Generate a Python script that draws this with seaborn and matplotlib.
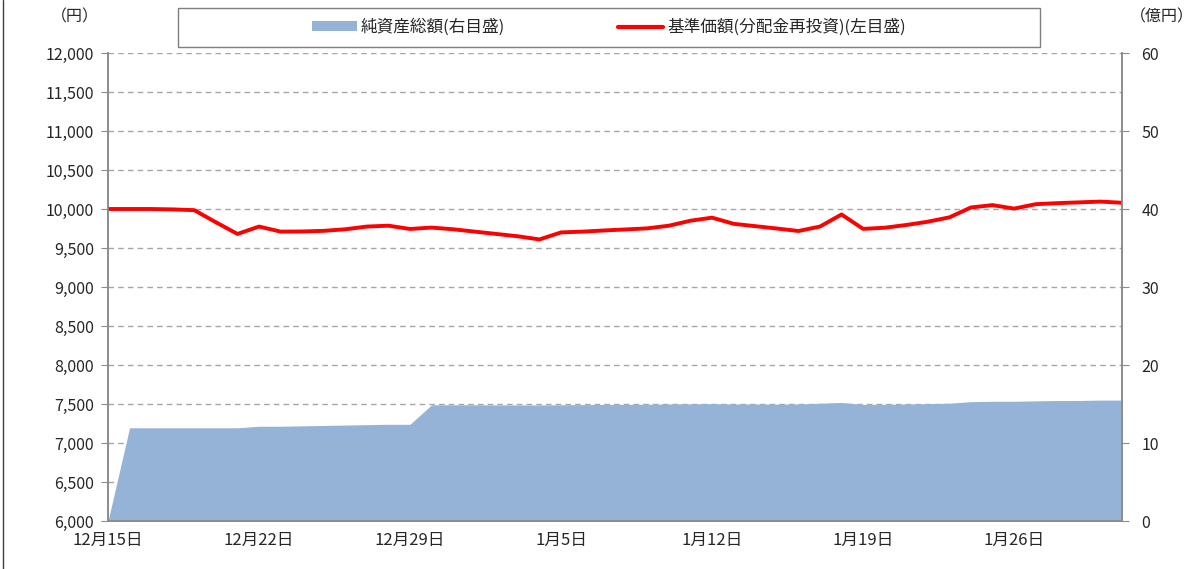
import pandas as pd
import matplotlib
matplotlib.use("Agg")
import matplotlib.pyplot as plt
import matplotlib.dates as mdates
from matplotlib.ticker import MultipleLocator, FuncFormatter
from matplotlib.patches import Rectangle, Patch
from matplotlib.lines import Line2D
import seaborn as sns

# 日付(12月15日〜1月31日)
dates = pd.date_range("2014-12-15", "2015-01-31", freq="D")

# 基準価額(分配金再投資)(左目盛, 円)
nav = [10000, 10000, 10000, 9995, 9985, 9830, 9680, 9775, 9710, 9712,
       9720, 9740, 9775, 9786, 9744, 9762, 9740, 9710, 9680, 9650,
       9610, 9700, 9710, 9725, 9738, 9752, 9786, 9850, 9889, 9810,
       9780, 9750, 9718, 9775, 9930, 9745, 9760, 9795, 9837, 9893,
       10020, 10050, 10005, 10062, 10075, 10085, 10095, 10080]

# 純資産総額(右目盛, 億円)
aum = [0, 11.95, 11.95, 11.95, 11.95, 11.95, 11.95, 12.15, 12.15, 12.2,
       12.25, 12.3, 12.35, 12.4, 12.4, 14.9, 14.9, 14.9, 14.88, 14.88,
       14.88, 14.9, 14.92, 14.95, 14.95, 14.97, 15.0, 15.02, 15.05, 15.0,
       15.0, 14.98, 15.0, 15.1, 15.2, 14.95, 14.97, 15.0, 15.05, 15.1,
       15.3, 15.35, 15.35, 15.4, 15.45, 15.45, 15.5, 15.5]

left_ticks = list(range(6000, 12001, 500))
right_ticks = list(range(0, 61, 10))

df = pd.DataFrame({"date": dates, "nav": nav, "aum": aum})

sns.set_style("white")
plt.rcParams["font.family"] = ["Noto Sans CJK JP", "DejaVu Sans"]

fig = plt.figure(figsize=(11.98, 5.69), dpi=100)
ax = fig.add_axes([108 / 1198, 1 - 521 / 569, (1122 - 108) / 1198, (521 - 53) / 569])
ax2 = ax.twinx()

blue = "#95B3D7"
red = "#FF0000"
gray = "#8C8C8C"

# 純資産総額(面)
ax2.fill_between(df["date"], df["aum"], 0, color=blue, lw=0, zorder=2)
ax2.set_ylim(0, 60)
ax2.set_yticks(right_ticks)
ax2.yaxis.set_minor_locator(MultipleLocator(5))
ax2.grid(True, which="both", axis="y", ls=(0, (4, 3)), color="#A6A6A6", lw=1, zorder=0)
ax2.set_axisbelow(True)
ax2.tick_params(axis="y", which="major", direction="out", length=5, color=gray,
                labelsize=11.5, pad=9)
ax2.tick_params(axis="y", which="minor", length=0)

# 基準価額(線)
ax.set_zorder(ax2.get_zorder() + 1)
ax.patch.set_visible(False)
sns.lineplot(data=df, x="date", y="nav", ax=ax, color=red, lw=2.8, legend=False,
             solid_joinstyle="round", solid_capstyle="round")
ax.set_ylim(6000, 12000)
ax.set_yticks(left_ticks)
ax.yaxis.set_major_formatter(FuncFormatter(lambda v, p: f"{int(v):,}"))
ax.set_xlim(dates[0], dates[-1])
ax.xaxis.set_major_locator(mdates.WeekdayLocator(byweekday=mdates.MO))
ax.xaxis.set_major_formatter(FuncFormatter(
    lambda v, p: f"{mdates.num2date(v).month}月{mdates.num2date(v).day}日"))
ax.tick_params(axis="y", direction="out", length=5, color=gray, labelsize=11.5, pad=5)
ax.tick_params(axis="x", direction="out", length=5, color=gray, labelsize=12, pad=3)
ax.set_xlabel("")
ax.set_ylabel("")
ax.grid(False)

for a in (ax, ax2):
    for s in a.spines.values():
        s.set_color(gray)
        s.set_linewidth(1.2)
    a.spines["top"].set_visible(False)

# 単位
fig.text(75 / 1198, 1 - 17 / 569, "（円）", ha="center", va="center", fontsize=11.5)
fig.text(1162 / 1198, 1 - 17 / 569, "（億円）", ha="center", va="center", fontsize=11.5)

# 凡例
fig.patches.append(Rectangle((178 / 1198, 1 - 47 / 569), (1040 - 178) / 1198, 39 / 569,
                             transform=fig.transFigure, fill=False, edgecolor="#7F7F7F", lw=1))
handles = [Patch(facecolor=blue, edgecolor="none"), Line2D([], [], color=red, lw=3)]
fig.legend(handles, ["純資産総額(右目盛)", "基準価額(分配金再投資)(左目盛)"],
           loc="center", bbox_to_anchor=(609 / 1198, 1 - 27.5 / 569), ncol=2,
           frameon=False, fontsize=12, handlelength=2.7, handleheight=0.55,
           handletextpad=0.25, columnspacing=6.8)

# 外枠
fig.lines.append(Line2D([3 / 1198, 3 / 1198], [0, 1], transform=fig.transFigure,
                        color="#404040", lw=1))

fig.savefig("out.png", dpi=100)
